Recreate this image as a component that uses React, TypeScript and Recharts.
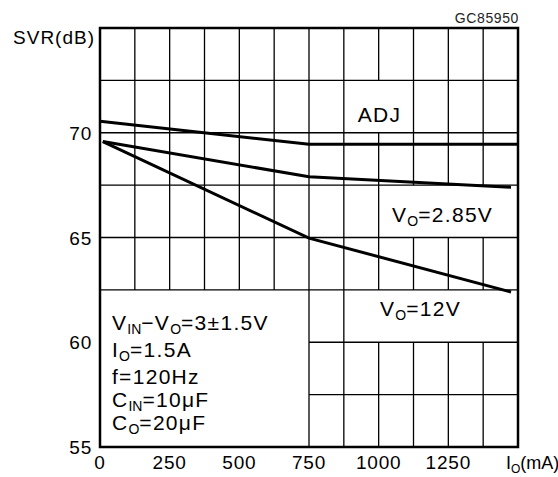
import React from "react";
import {
  LineChart,
  Line,
  XAxis,
  YAxis,
  ReferenceLine,
  ReferenceArea,
  ReferenceDot,
} from "recharts";

// Io (mA) / SVR (dB)
const adjCurrent = [0, 750, 1500];
const adjSVR = [70.55, 69.45, 69.45];
const outCurrent = [10, 750, 1475];
const v285SVR = [69.58, 67.9, 67.4];
const v12SVR = [69.58, 64.97, 62.4];

const xTicks = [0, 250, 500, 750, 1000, 1250, 1500];
const yTicks = [55, 60, 65, 70, 75];

// grid every 125 mA / 2.5 dB
const gridX = [125, 250, 375, 500, 625, 750, 875, 1000, 1125, 1250, 1375];
const gridY = [57.5, 60, 62.5, 65, 67.5, 70, 72.5];

// cells left without grid behind the labels
const blankBoxes = [
  { x1: 0, x2: 750, y1: 55, y2: 62.5 },
  { x1: 875, x2: 1500, y1: 60, y2: 62.5 },
  { x1: 1000, x2: 1500, y1: 65, y2: 67.5 },
  { x1: 875, x2: 1125, y1: 70, y2: 72.5 },
];

const FONT = "'Liberation Sans', Arial, sans-serif";

type Part = { t: string; sub?: boolean };

const notes: { x: number; y: number; anchor: string; parts: Part[] }[] = [
  { x: 1003, y: 70.5, anchor: "middle", parts: [{ t: "ADJ" }] },
  { x: 1048, y: 65.75, anchor: "start", parts: [{ t: "V" }, { t: "O", sub: true }, { t: "=2.85V" }] },
  { x: 1005, y: 61.25, anchor: "start", parts: [{ t: "V" }, { t: "O", sub: true }, { t: "=12V" }] },
  { x: 43, y: 60.59, anchor: "start", parts: [{ t: "V" }, { t: "IN", sub: true }, { t: "\u2212V" }, { t: "O", sub: true }, { t: "=3\u00b11.5V" }] },
  { x: 43, y: 59.31, anchor: "start", parts: [{ t: "I" }, { t: "O", sub: true }, { t: "=1.5A" }] },
  { x: 43, y: 57.99, anchor: "start", parts: [{ t: "f=120Hz" }] },
  { x: 43, y: 56.92, anchor: "start", parts: [{ t: "C" }, { t: "IN", sub: true }, { t: "=10\u03bcF" }] },
  { x: 43, y: 55.81, anchor: "start", parts: [{ t: "C" }, { t: "O", sub: true }, { t: "=20\u03bcF" }] },
];

function freeSpans(lo: number, hi: number, cuts: [number, number][]) {
  let spans: [number, number][] = [[lo, hi]];
  cuts.forEach(([a, b]) => {
    const next: [number, number][] = [];
    spans.forEach(([s, e]) => {
      if (b <= s || a >= e) {
        next.push([s, e]);
        return;
      }
      if (a > s) next.push([s, a]);
      if (b < e) next.push([b, e]);
    });
    spans = next;
  });
  return spans;
}

const gridSegments: { key: string; seg: { x: number; y: number }[] }[] = [];
gridX.forEach((x) => {
  const cuts = blankBoxes
    .filter((b) => b.x1 < x && x < b.x2)
    .map((b) => [b.y1, b.y2] as [number, number]);
  freeSpans(55, 75, cuts).forEach(([a, b], i) =>
    gridSegments.push({ key: `v${x}-${i}`, seg: [{ x, y: a }, { x, y: b }] })
  );
});
gridY.forEach((y) => {
  const cuts = blankBoxes
    .filter((b) => b.y1 < y && y < b.y2)
    .map((b) => [b.x1, b.x2] as [number, number]);
  freeSpans(0, 1500, cuts).forEach(([a, b], i) =>
    gridSegments.push({ key: `h${y}-${i}`, seg: [{ x: a, y }, { x: b, y }] })
  );
});

const toRows = (xs: number[], ys: number[]) => xs.map((x, i) => ({ x, svr: ys[i] }));

const renderParts = (parts: Part[]) =>
  parts.map((p, i) =>
    p.sub ? (
      <tspan key={i} fontSize={14} dy={4} letterSpacing={0}>
        {p.t}
      </tspan>
    ) : (
      <tspan key={i} dy={i > 0 && parts[i - 1].sub ? -4 : 0}>
        {p.t}
      </tspan>
    )
  );

const XTick = (props: any) => {
  const { x, y, payload } = props;
  if (payload.value === 1500) {
    return (
      <text x={x - 12} y={y + 14} fontSize={18} fontFamily={FONT} fill="#000">
        <tspan>I</tspan>
        <tspan fontSize={12} dy={4}>O</tspan>
        <tspan dy={-4}>(mA)</tspan>
      </text>
    );
  }
  return (
    <text x={x} y={y + 14} fontSize={19} fontFamily={FONT} fill="#000" textAnchor="middle" letterSpacing={0.8}>
      {payload.value}
    </text>
  );
};

const YTick = (props: any) => {
  const { x, y, payload } = props;
  if (payload.value === 75) {
    return (
      <text x={x + 3} y={y + 16} fontSize={19} fontFamily={FONT} fill="#000" textAnchor="end" letterSpacing={1}>
        SVR(dB)
      </text>
    );
  }
  return (
    <text x={x} y={y + 7} fontSize={19} fontFamily={FONT} fill="#000" textAnchor="end" letterSpacing={0.8}>
      {payload.value}
    </text>
  );
};

const App: React.FC = () => {
  return (
    <div style={{ position: "absolute", left: 0, top: 0, background: "#fff" }}>
      <LineChart width={558} height={477} margin={{ top: 28, right: 40, bottom: 0, left: 0 }}>
        <XAxis
          type="number"
          dataKey="x"
          domain={[0, 1500]}
          ticks={xTicks}
          axisLine={false}
          tickLine={false}
          height={30}
          tick={<XTick />}
          interval={0}
        />
        <YAxis
          type="number"
          domain={[55, 75]}
          ticks={yTicks}
          axisLine={false}
          tickLine={false}
          width={100}
          tick={<YTick />}
          interval={0}
        />
        {gridSegments.map((g) => (
          <ReferenceLine key={g.key} segment={g.seg} stroke="#000" strokeWidth={1.3} />
        ))}
        <Line data={toRows(adjCurrent, adjSVR)} dataKey="svr" stroke="#000" strokeWidth={3} dot={false} isAnimationActive={false} />
        <Line data={toRows(outCurrent, v285SVR)} dataKey="svr" stroke="#000" strokeWidth={3} dot={false} isAnimationActive={false} />
        <Line data={toRows(outCurrent, v12SVR)} dataKey="svr" stroke="#000" strokeWidth={3} dot={false} isAnimationActive={false} />
        <ReferenceArea x1={0} x2={1500} y1={55} y2={75} fill="none" fillOpacity={0} stroke="#000" strokeWidth={2.5} />
        {notes.map((n, i) => (
          <ReferenceDot
            key={i}
            x={n.x}
            y={n.y}
            r={0}
            fill="none"
            stroke="none"
            label={(p: any) => (
              <text
                x={p.viewBox.x}
                y={p.viewBox.y}
                fontSize={21}
                fontFamily={FONT}
                fill="#000"
                textAnchor={n.anchor}
                letterSpacing={1.3}
              >
                {renderParts(n.parts)}
              </text>
            )}
          />
        ))}
        <ReferenceDot
          x={1500}
          y={75}
          r={0}
          fill="none"
          stroke="none"
          label={(p: any) => (
            <text x={p.viewBox.x + 1} y={p.viewBox.y - 5} fontSize={14} fontFamily={FONT} fill="#222" textAnchor="end" letterSpacing={0.6}>
              GC85950
            </text>
          )}
        />
      </LineChart>
    </div>
  );
};

export default App;
